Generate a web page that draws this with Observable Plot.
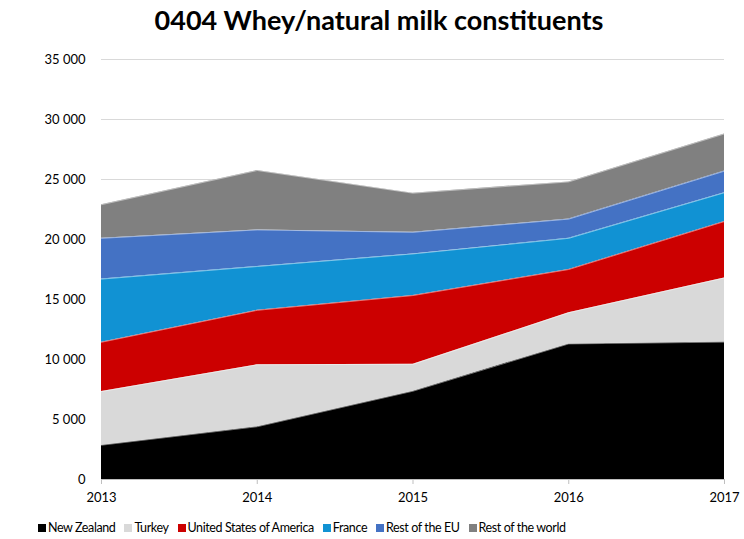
<!DOCTYPE html>
<html>
<head>
<meta charset="utf-8">
<script src="https://cdn.jsdelivr.net/npm/d3@7"></script>
<script src="https://cdn.jsdelivr.net/npm/@observablehq/plot@0.6"></script>
<style>
  html, body { margin: 0; padding: 0; background: #fff; }
  #wrap { position: relative; width: 744px; height: 539px; font-family: Lato, "Open Sans", sans-serif; }
  #title { position: absolute; left: 0; top: 3px; width: 758px; text-align: center; font-weight: bold; font-size: 27px; color: #000; }
  #chart { position: absolute; left: 0; top: 42px; }
  #ylab { position: absolute; left: 18px; top: 262px; transform: translate(-50%, -50%) rotate(-90deg); font-weight: bold; font-size: 12px; white-space: nowrap; }
  #legend { position: absolute; left: 38px; top: 520px; display: flex; gap: 9px; font-family: Lato, sans-serif; font-size: 12.5px; letter-spacing: -0.4px; white-space: nowrap; }
  .leg { display: flex; align-items: center; }
  .sw { display: inline-block; width: 8px; height: 8px; margin-right: 2px; }
</style>
</head>
<body>
<div id="wrap">
  <div id="title">0404 Whey/natural milk constituents</div>
  <div id="ylab">volume tonnes</div>
  <div id="chart"></div>
  <div id="legend"></div>
</div>
<script>
const years = [2013, 2014, 2015, 2016, 2017];
const seriesNames = ["New Zealand", "Turkey", "United States of America", "France", "Rest of the EU", "Rest of the world"];
const newZealand = [2860, 4400, 7360, 11300, 11450];
const turkey = [4470, 5160, 2240, 2600, 5350];
const usa = [4110, 4540, 5730, 3600, 4700];
const france = [5260, 3650, 3470, 2600, 2400];
const restEU = [3400, 3050, 1800, 1600, 1800];
const restWorld = [2800, 4950, 3260, 3100, 3100];
const yTicks = [0, 5000, 10000, 15000, 20000, 25000, 30000, 35000];
const colors = ["#000000", "#d9d9d9", "#cc0000", "#1192d3", "#4472c4", "#808080"];

const allValues = [newZealand, turkey, usa, france, restEU, restWorld];
const rows = [];
seriesNames.forEach((s, i) => years.forEach((y, j) => rows.push({year: y, series: s, value: allValues[i][j]})));

const fmt = d => d3.format(",")(d).replace(/,/g, " ");

const chart = Plot.plot({
  width: 744,
  height: 468,
  marginTop: 17,
  marginBottom: 31,
  marginLeft: 101,
  marginRight: 20,
  style: {fontFamily: "Lato, 'Open Sans', sans-serif", fontSize: "13px", color: "#000", background: "#fff"},
  x: {type: "linear", domain: [2013, 2017]},
  y: {domain: [0, 35000]},
  color: {domain: seriesNames, range: colors},
  marks: [
    Plot.gridY(yTicks, {stroke: "#d9d9d9", strokeOpacity: 1}),
    Plot.areaY(rows, {x: "year", y: "value", z: "series", fill: "series", order: seriesNames}),
    Plot.lineY(rows, Plot.stackY2({x: "year", y: "value", z: "series", order: seriesNames, stroke: "#ffffff", strokeOpacity: 0.6, strokeWidth: 0.8})),
    Plot.ruleY([0], {stroke: "#bfbfbf"}),
    Plot.axisX({ticks: years, tickFormat: "d", tickSize: 5, tickPadding: 8, stroke: "#bfbfbf", fill: "#000", label: null}),
    Plot.axisY({ticks: yTicks, tickFormat: fmt, tickSize: 0, tickPadding: 16, fill: "#000", label: null})
  ]
});
document.getElementById("chart").appendChild(chart);

const legend = document.getElementById("legend");
seriesNames.forEach((s, i) => {
  const item = document.createElement("div");
  item.className = "leg";
  const sw = document.createElement("span");
  sw.className = "sw";
  sw.style.background = colors[i];
  item.appendChild(sw);
  item.appendChild(document.createTextNode(s));
  legend.appendChild(item);
});
</script>
</body>
</html>
